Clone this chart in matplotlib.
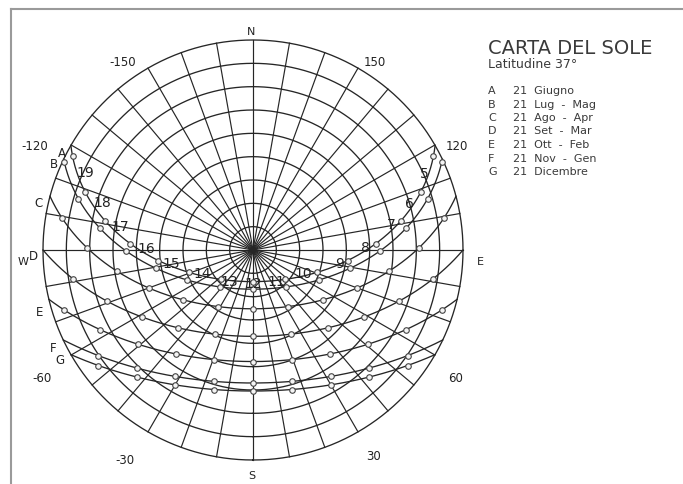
import numpy as np
import matplotlib
matplotlib.use("Agg")
import matplotlib.pyplot as plt
from matplotlib.lines import Line2D

# ---------------- data ----------------
LATITUDE = 37
curve_letters = ["A", "B", "C", "D", "E", "F", "G"]
legend_dates = ["21  Giugno", "21  Lug  -  Mag", "21  Ago  -  Apr", "21  Set  -  Mar",
                "21  Ott  -  Feb", "21  Nov  -  Gen", "21  Dicembre"]
declinations = [23.44, 20.2, 11.8, 0.0, -10.8, -20.0, -23.44]   # solar declination of each date
marker_hours = list(range(4, 21))                                 # solar hours marked on each path
hour_labels = [5, 6, 7, 8, 9, 10, 11, 12, 13, 14, 15, 16, 17, 18, 19]
zenith_rings = [10, 20, 30, 40, 50, 60, 70, 80, 90]              # 90 - altitude
azimuth_lines = list(range(-180, 180, 10))
azimuth_tick_labels = ["-150", "150", "-120", "120", "-60", "60", "-30", "30"]

# ---------------- style ----------------
W, H = 683, 484
CX, CY, R = 253, 250, 210
LC = "#262626"
LW = 0.95

def fx(px):
    return px / W

def fy(py):
    return 1 - py / H

fig = plt.figure(figsize=(W / 100, H / 100), dpi=100)
fig.patch.set_facecolor("white")
ax = fig.add_axes([(CX - R) / W, (H - CY - R) / H, 2 * R / W, 2 * R / H], projection="polar")
ax.set_theta_zero_location("S")
ax.set_theta_direction(1)
ax.set_rlim(0, 90)
ax.grid(False)
ax.set_xticks([])
ax.set_yticks([])
ax.spines["polar"].set_visible(False)
ax.patch.set_alpha(0)

# grid rings and azimuth lines
tt = np.radians(np.linspace(0, 360, 721))
for zr in zenith_rings:
    ax.plot(tt, np.full_like(tt, zr), color=LC, lw=LW, clip_on=False)
for az in azimuth_lines:
    ax.plot([np.radians(az)] * 2, [0, 90], color=LC, lw=LW * 0.9, clip_on=False)


def sun_position(dec, hour_angle):
    phi = np.radians(LATITUDE)
    d = np.radians(dec)
    h = np.radians(hour_angle)
    sin_alt = np.sin(phi) * np.sin(d) + np.cos(phi) * np.cos(d) * np.cos(h)
    alt = np.degrees(np.arcsin(np.clip(sin_alt, -1, 1)))
    a_west = np.arctan2(np.sin(h), np.cos(h) * np.sin(phi) - np.tan(d) * np.cos(phi))
    return -a_west, 90 - alt


letter_offsets = {"A": (-9, 8), "B": (-10, 5), "C": (-12, 7), "D": (-10, 7),
                  "E": (-9, 13), "F": (-10, 9), "G": (-11, 6)}

paths = {}
for letter, dec in zip(curve_letters, declinations):
    h0 = np.degrees(np.arccos(np.clip(-np.tan(np.radians(LATITUDE)) * np.tan(np.radians(dec)), -1, 1)))
    hs = np.linspace(-h0, h0, 400)
    th, zd = sun_position(dec, hs)
    ax.plot(th, zd, color=LC, lw=LW, clip_on=False)
    mh = np.array(marker_hours, dtype=float)
    mth, mzd = sun_position(dec, 15 * (mh - 12))
    ok = mzd < 89.6
    ax.plot(mth[ok], mzd[ok], "o", ms=4, mfc="#f4f4f4", mec="#444444", mew=0.8, clip_on=False, zorder=4)
    paths[letter] = dict(zip(mh[ok].astype(int), zip(mth[ok], mzd[ok])))
    # letter at the west end of the path
    ox, oy = letter_offsets[letter]
    ax.annotate(letter, (th[-1], zd[-1]), xytext=(ox, -oy), textcoords="offset pixels",
                ha="center", va="center", fontsize=8.5, color="#222222")

# hour labels next to the June path markers
hour_offsets = {19: (4, 17), 18: (8, 11), 17: (6, 6), 16: (7, 5), 15: (4, 3), 14: (4, 2), 13: (0, 3),
                12: (0, 2), 11: (0, 3), 10: (-5, 2), 9: (-4, 3), 8: (-6, 4), 7: (-5, 4), 6: (-7, 12), 5: (-5, 18)}
for hr in hour_labels:
    th, zd = paths["A"][hr]
    ox, oy = hour_offsets[hr]
    ha = "left" if hr > 12 else ("right" if hr < 12 else "center")
    ax.annotate(str(hr), (th, zd), xytext=(ox, -oy), textcoords="offset pixels",
                ha=ha, va="center", fontsize=10, color="#222222", zorder=5)

# azimuth labels (pixel positions)
az_label_pos = [(123, 62), (375, 62), (35, 147), (457, 146), (42, 378), (456, 378), (125, 460), (374, 457)]
for txt, (px, py) in zip(azimuth_tick_labels, az_label_pos):
    fig.text(fx(px), fy(py), txt, ha="center", va="center", fontsize=8.5, color="#222222")

# cardinal points
for txt, (px, py) in zip(["N", "S", "W", "E"], [(251, 32), (252, 476), (23, 262), (480, 262)]):
    fig.text(fx(px), fy(py), txt, ha="center", va="center", fontsize=8, color="#222222")

# title & legend
fig.text(fx(488), fy(49), "CARTA DEL SOLE", ha="left", va="center", fontsize=14, color="#3a3a3a")
fig.text(fx(488), fy(64), "Latitudine 37°", ha="left", va="center", fontsize=9, color="#3a3a3a")
leg_y = [91, 104.5, 118, 131.5, 145, 158.5, 172]
for letter, label, y in zip(curve_letters, legend_dates, leg_y):
    fig.text(fx(488), fy(y), letter, ha="left", va="center", fontsize=8, color="#3a3a3a")
    fig.text(fx(513), fy(y), label, ha="left", va="center", fontsize=8, color="#3a3a3a")

# frame border
fig.add_artist(Line2D([fx(11), 1], [fy(9), fy(9)], color="#9a9a9a", lw=1.5))
fig.add_artist(Line2D([fx(11), fx(11)], [fy(9), 0], color="#9a9a9a", lw=1.5))

fig.savefig("out.png", dpi=100, facecolor="white")
